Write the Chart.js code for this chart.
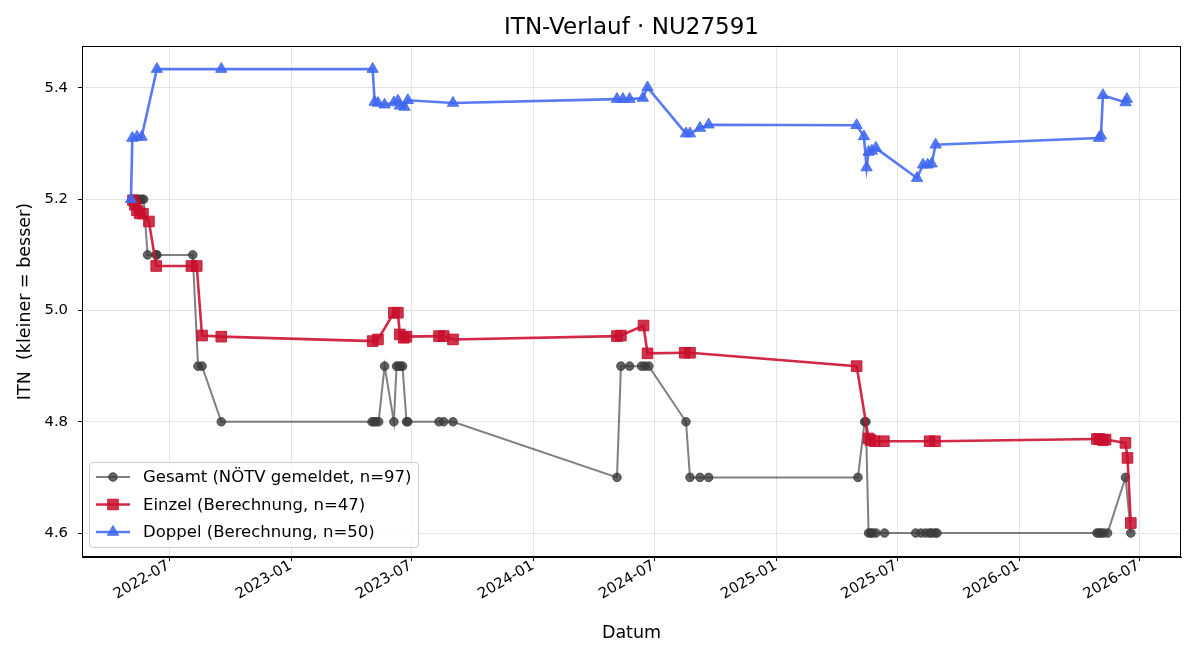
<!DOCTYPE html>
<html>
<head>
<meta charset="utf-8">
<script src="https://cdn.jsdelivr.net/npm/chart.js@4.4.1/dist/chart.umd.min.js"></script>
<style>
  html, body { margin: 0; padding: 0; background: #fff; }
  #wrap { width: 1200px; height: 660px; }
</style>
</head>
<body>
<div id="wrap"><canvas id="c" width="1200" height="660"></canvas></div>
<script>
// ---- Data ----
const tickLabels = ['2022-07', '2023-01', '2023-07', '2024-01', '2024-07', '2025-01', '2025-07', '2026-01', '2026-07'];
const yTickValues = [4.6, 4.8, 5.0, 5.2, 5.4];

const gesamtDates = [
  '2022-05-07','2022-05-11','2022-05-14','2022-05-17','2022-05-20','2022-05-23',
  '2022-05-29','2022-06-11','2022-06-12','2022-08-05',
  '2022-08-13','2022-08-19',
  '2022-09-17',
  '2023-05-02','2023-05-05','2023-05-08','2023-05-12',
  '2023-05-21','2023-06-04','2023-06-08','2023-06-11','2023-06-14','2023-06-17','2023-06-23','2023-06-25',
  '2023-08-11','2023-08-18','2023-09-01',
  '2024-05-05','2024-05-11','2024-05-24','2024-06-11','2024-06-16','2024-06-22',
  '2024-08-17','2024-08-23','2024-09-07','2024-09-20',
  '2025-05-03','2025-05-13','2025-05-15','2025-05-19','2025-05-22','2025-05-25','2025-05-30','2025-06-12',
  '2025-07-29','2025-08-06','2025-08-13','2025-08-19','2025-08-22','2025-08-27','2025-08-30',
  '2026-04-28','2026-05-01','2026-05-04','2026-05-08','2026-05-14',
  '2026-06-10','2026-06-18'
];
const gesamtValues = [
  5.2,5.2,5.2,5.2,5.2,5.2,
  5.1,5.1,5.1,5.1,
  4.9,4.9,
  4.8,
  4.8,4.8,4.8,4.8,
  4.9,4.8,4.9,4.9,4.9,4.9,4.8,4.8,
  4.8,4.8,4.8,
  4.7,4.9,4.9,4.9,4.9,4.9,
  4.8,4.7,4.7,4.7,
  4.7,4.8,4.8,4.6,4.6,4.6,4.6,4.6,
  4.6,4.6,4.6,4.6,4.6,4.6,4.6,
  4.6,4.6,4.6,4.6,4.6,
  4.7,4.6
];

const einzelDates = [
  '2022-05-07','2022-05-10','2022-05-13','2022-05-17','2022-05-22','2022-05-31',
  '2022-06-11','2022-08-03','2022-08-11','2022-08-19','2022-09-17',
  '2023-05-03','2023-05-11','2023-06-04','2023-06-10','2023-06-13','2023-06-19','2023-06-23',
  '2023-08-11','2023-08-18','2023-09-01',
  '2024-05-05','2024-05-11','2024-06-14','2024-06-20','2024-08-15','2024-08-23',
  '2025-05-01','2025-05-19','2025-05-22','2025-05-28','2025-06-11','2025-08-19','2025-08-27',
  '2026-04-28','2026-05-02','2026-05-07','2026-05-11','2026-06-10','2026-06-13','2026-06-18'
];
const einzelValues = [
  5.198,5.190,5.180,5.175,5.174,5.160,
  5.080,5.080,5.080,4.955,4.953,
  4.945,4.948,4.996,4.996,4.957,4.951,4.953,
  4.954,4.954,4.948,
  4.954,4.955,4.973,4.923,4.924,4.924,
  4.900,4.770,4.767,4.765,4.765,4.765,4.765,
  4.769,4.769,4.767,4.768,4.762,4.735,4.618
];

const doppelDates = [
  '2022-05-04','2022-05-06','2022-05-13','2022-05-20','2022-06-12','2022-09-17',
  '2023-05-03','2023-05-06','2023-05-11','2023-05-21','2023-06-04','2023-06-10','2023-06-13','2023-06-20','2023-06-25',
  '2023-09-01',
  '2024-05-05','2024-05-14','2024-05-24','2024-06-13','2024-06-20',
  '2024-08-17','2024-08-23','2024-09-07','2024-09-20',
  '2025-05-01','2025-05-12','2025-05-16','2025-05-19','2025-05-24','2025-05-30',
  '2025-07-31','2025-08-09','2025-08-16','2025-08-22','2025-08-28',
  '2026-05-01','2026-05-04','2026-05-07','2026-06-10','2026-06-12'
];
const doppelValues = [
  5.200,5.310,5.312,5.312,5.434,5.434,
  5.434,5.375,5.373,5.370,5.374,5.377,5.368,5.366,5.378,
  5.373,
  5.380,5.380,5.380,5.382,5.401,
  5.318,5.318,5.328,5.334,
  5.333,5.313,5.257,5.285,5.287,5.292,
  5.238,5.262,5.262,5.264,5.298,
  5.310,5.314,5.387,5.374,5.380
];

const seriesLabels = ['Gesamt (NÖTV gemeldet, n=97)', 'Einzel (Berechnung, n=47)', 'Doppel (Berechnung, n=50)'];

// ---- helpers ----
function toMs(s) {
  const p = s.split('-').map(Number);
  return Date.UTC(p[0], p[1] - 1, p[2] || 1);
}
function pts(dates, vals) { return dates.map((d, i) => ({ x: toMs(d), y: vals[i] })); }
const DAY = 86400000;
const xMin = toMs('2022-07-01') - 131.8 * DAY;
const xMax = toMs('2022-07-01') + 1523.6 * DAY;

const FAM = '"DejaVu Sans", sans-serif';
Chart.defaults.font.family = FAM;
Chart.defaults.color = '#000';

const FONT_TICK = { family: FAM, size: 14.8 };

const framePlugin = {
  id: 'frame',
  afterDraw(chart) {
    const ctx = chart.ctx, a = chart.chartArea;
    ctx.save();
    ctx.strokeStyle = '#000';
    ctx.lineWidth = 1;
    ctx.strokeRect(Math.round(a.left) + 0.5, Math.round(a.top) + 0.5, Math.round(a.right - a.left) - 1, Math.round(a.bottom - a.top) - 1);

    // legend box (lower left inside plot)
    const bx = a.left + 7, by = a.bottom - 95, bw = 329, bh = 85;
    ctx.beginPath();
    if (ctx.roundRect) ctx.roundRect(bx + 0.5, by + 0.5, bw, bh, 3); else ctx.rect(bx + 0.5, by + 0.5, bw, bh);
    ctx.fillStyle = 'rgba(255,255,255,0.8)';
    ctx.fill();
    ctx.strokeStyle = '#cccccc';
    ctx.lineWidth = 1;
    ctx.stroke();
    ctx.font = '16.5px ' + FAM;
    ctx.textBaseline = 'middle';
    ctx.textAlign = 'left';
    [0, 1, 2].forEach((di, k) => {
      const ds = chart.data.datasets[di];
      const y = by + 15 + k * 27.5;
      ctx.beginPath();
      ctx.strokeStyle = ds.borderColor;
      ctx.lineWidth = ds.borderWidth;
      ctx.moveTo(bx + 7, y);
      ctx.lineTo(bx + 41, y);
      ctx.stroke();
      ctx.fillStyle = ds.pointBackgroundColor;
      ctx.strokeStyle = ds.pointBorderColor;
      ctx.lineWidth = ds.pointBorderWidth;
      Chart.helpers.drawPoint(ctx, { pointStyle: ds.pointStyle, rotation: 0, radius: ds.pointRadius, borderWidth: ds.pointBorderWidth }, bx + 24, y);
      ctx.fillStyle = '#000';
      ctx.fillText(ds.label, bx + 54, y + 1);
    });
    ctx.restore();
  }
};

new Chart(document.getElementById('c'), {
  type: 'line',
  data: {
    datasets: [
      {
        label: seriesLabels[0],
        data: pts(gesamtDates, gesamtValues),
        borderColor: 'rgba(68,68,68,0.68)',
        borderWidth: 2,
        pointStyle: 'circle',
        pointRadius: 4.3,
        pointBackgroundColor: 'rgba(60,60,60,0.8)',
        pointBorderColor: 'rgba(60,60,60,0.8)',
        pointBorderWidth: 1,
        tension: 0,
        order: 3
      },
      {
        label: seriesLabels[1],
        data: pts(einzelDates, einzelValues),
        borderColor: 'rgba(205,18,50,0.9)',
        borderWidth: 2.6,
        pointStyle: 'rect',
        pointRadius: 7.5,
        pointBackgroundColor: 'rgba(200,16,46,0.85)',
        pointBorderColor: 'rgba(200,16,46,0.9)',
        pointBorderWidth: 1,
        tension: 0,
        order: 2
      },
      {
        label: seriesLabels[2],
        data: pts(doppelDates, doppelValues),
        borderColor: 'rgba(65,105,240,0.88)',
        borderWidth: 2.6,
        pointStyle: 'triangle',
        pointRadius: 6.5,
        pointBackgroundColor: 'rgba(65,105,240,0.88)',
        pointBorderColor: 'rgba(65,105,240,0.9)',
        pointBorderWidth: 1,
        tension: 0,
        order: 1
      }
    ]
  },
  plugins: [framePlugin],
  options: {
    responsive: false,
    animation: false,
    devicePixelRatio: 1,
    layout: { padding: { left: 0, right: 19, top: 0, bottom: 0 } },
    plugins: {
      legend: { display: false },
      tooltip: { enabled: false },
      title: {
        display: true,
        fullSize: false,
        text: 'ITN-Verlauf · NU27591',
        font: { family: FAM, size: 23, weight: 'normal' },
        color: '#000',
        padding: { top: 14.2, bottom: 4.2 }
      }
    },
    scales: {
      x: {
        type: 'linear',
        min: xMin,
        max: xMax,
        afterFit(s) { s.height = 103; },
        afterBuildTicks(s) { s.ticks = tickLabels.map(t => ({ value: toMs(t) })); },
        ticks: {
          autoSkip: false,
          minRotation: 30,
          maxRotation: 30,
          padding: -4,
          labelOffset: -1,
          font: FONT_TICK,
          color: '#000',
          callback(v) {
            const i = tickLabels.findIndex(t => toMs(t) === v);
            return i >= 0 ? tickLabels[i] : '';
          }
        },
        grid: { color: '#e4e4e4', lineWidth: 1, tickColor: '#000', tickLength: 4, drawTicks: true },
        border: { color: '#000', width: 1 },
        title: {
          display: true,
          text: 'Datum',
          font: { family: FAM, size: 17.5 },
          color: '#000',
          padding: { top: 16, bottom: 16 }
        }
      },
      y: {
        type: 'linear',
        min: 4.5569,
        max: 5.4755,
        afterFit(s) { s.width = 82; },
        afterBuildTicks(s) { s.ticks = yTickValues.map(v => ({ value: v })); },
        ticks: {
          padding: 10,
          font: FONT_TICK,
          color: '#000',
          callback(v) { return Number(v).toFixed(1); }
        },
        grid: { color: '#e4e4e4', lineWidth: 1, tickColor: '#000', tickLength: 4, drawTicks: true },
        border: { color: '#000', width: 1 },
        title: {
          display: true,
          text: 'ITN  (kleiner = besser)',
          font: { family: FAM, size: 17.5 },
          color: '#000',
          padding: { top: 15, bottom: 15 }
        }
      }
    }
  }
});
</script>
</body>
</html>
